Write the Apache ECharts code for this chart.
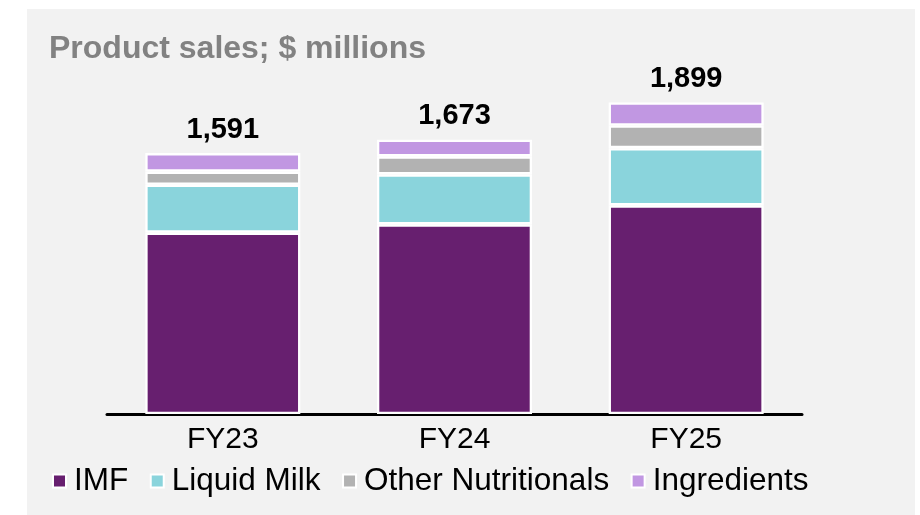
<!DOCTYPE html>
<html>
<head>
<meta charset="utf-8">
<script src="https://cdn.jsdelivr.net/npm/echarts@6/dist/echarts.min.js"></script>
<style>
  html, body { margin: 0; padding: 0; background: #fff; }
  #chart { width: 920px; height: 515px; }
</style>
</head>
<body>
<div id="chart"></div>
<script>
// data ($ millions)
const years = ['FY23', 'FY24', 'FY25'];
const imf = [1106, 1156, 1272];
const liquidMilk = [292, 305, 349];
const otherNutritionals = [80, 110, 138];
const ingredients = [113, 102, 140];
const totals = [1591, 1673, 1899];

const seriesNames = ['IMF', 'Liquid Milk', 'Other Nutritionals', 'Ingredients'];
const colors = ['#671f6f', '#8ad4dc', '#b2b2b2', '#c197e2'];
const font = 'Liberation Sans, Arial, sans-serif';

const myChart = echarts.init(document.getElementById('chart'));

function barSeries(name, data, idx) {
  let s = {
    name: name,
    type: 'bar',
    stack: 'sales',
    data: data,
    barWidth: 155,
    // echarts keeps the border inside the bar, so half the visible gap
    itemStyle: { color: colors[idx], borderColor: '#fff', borderWidth: 2.3 }
  };
  // totals on top of the stack
  if (idx === 3) {
    s.label = {
      show: true,
      position: 'top',
      distance: 9,
      fontFamily: font,
      fontSize: 29,
      fontWeight: 'bold',
      color: '#000',
      formatter: p => totals[p.dataIndex].toLocaleString('en-US')
    };
  }
  return s;
}

const option = {
  backgroundColor: '#fff',
  animation: false,
  graphic: [{
    type: 'rect',
    z: -10,
    shape: { x: 27, y: 9, width: 888, height: 506 },
    style: { fill: '#f2f2f2' }
  }],
  title: {
    text: 'Product sales; $ millions',
    left: 44,
    top: 28,
    textStyle: { fontFamily: font, fontSize: 32, fontWeight: 'bold', color: '#828282' }
  },
  legend: {
    data: seriesNames,
    left: 47,
    top: 460,
    itemWidth: 13,
    itemHeight: 13,
    itemGap: 21.5,
    icon: 'rect',
    textStyle: { fontFamily: font, fontSize: 31.5, color: '#000', padding: [0, 0, 0, 3] }
  },
  grid: { left: 107, right: 118, top: 86, bottom: 101 },
  xAxis: {
    type: 'category',
    data: years,
    offset: 1.5,
    axisLine: { lineStyle: { color: '#000', width: 3 } },
    axisTick: { show: false },
    axisLabel: { fontFamily: font, fontSize: 30, color: '#000', margin: 9 }
  },
  yAxis: {
    type: 'value',
    min: 0,
    max: 2000,
    show: false
  },
  series: [
    barSeries(seriesNames[0], imf, 0),
    barSeries(seriesNames[1], liquidMilk, 1),
    barSeries(seriesNames[2], otherNutritionals, 2),
    barSeries(seriesNames[3], ingredients, 3)
  ]
};

myChart.setOption(option);
</script>
</body>
</html>
